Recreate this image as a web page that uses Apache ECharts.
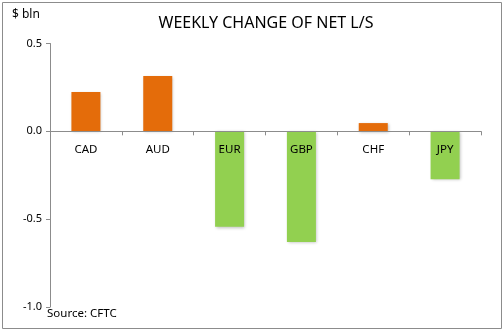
<!DOCTYPE html>
<html><head><meta charset="utf-8">
<script src="https://cdn.jsdelivr.net/npm/echarts@6/dist/echarts.min.js"></script>
<style>html,body{margin:0;padding:0;background:#fff}#c{width:504px;height:332px}</style>
</head><body><div id="c"></div>
<script>
var categories = ["CAD", "AUD", "EUR", "GBP", "CHF", "JPY"];
var values = [0.224, 0.315, -0.543, -0.63, 0.047, -0.273];
var yTicks = [-1.0, -0.5, 0.0, 0.5];

var chart = echarts.init(document.getElementById('c'));
var font = '"Noto Sans", sans-serif';
var gridTop = 43.5, gridBottom = 25, H = 332;
var yMin = yTicks[0], yMax = yTicks[yTicks.length - 1];
var plotH = H - gridTop - gridBottom;
var zeroOffset = -plotH * (0 - yMin) / (yMax - yMin);
chart.setOption({
  animation: false,
  backgroundColor: '#fff',
  title: {
    text: 'WEEKLY CHANGE OF NET L/S', left: 261, top: 10, textAlign: 'center',
    textStyle: { fontFamily: font, fontWeight: 'normal', fontSize: 16, color: '#000' }
  },
  graphic: [
    { type: 'rect', shape: { x: 2.5, y: 2.5, width: 499, height: 326 }, style: { fill: 'none', stroke: '#8c8c8c', lineWidth: 1 } },
    { type: 'text', left: 12, top: 9, style: { text: '$ bln', fontFamily: font, fontSize: 12, fill: '#000' } },
    { type: 'text', left: 47, top: 308, style: { text: 'Source: CFTC', fontFamily: font, fontSize: 11.5, fill: '#000' } }
  ],
  grid: { left: 50, right: 23, top: gridTop, bottom: gridBottom },
  xAxis: {
    type: 'category', data: categories,
    offset: zeroOffset,
    axisLine: { onZero: false, lineStyle: { color: '#8c8c8c' } },
    axisTick: { show: true, length: 4, inside: false, lineStyle: { color: '#8c8c8c' } },
    axisLabel: { margin: 12, fontFamily: font, fontSize: 11.5, color: '#000' },
    z: 10
  },
  yAxis: {
    type: 'value', min: yMin, max: yMax, interval: 0.5,
    splitLine: { show: false },
    axisLine: { show: true, lineStyle: { color: '#8c8c8c' } },
    axisTick: { show: true, length: 4, lineStyle: { color: '#8c8c8c' } },
    axisLabel: { margin: 8, fontFamily: font, fontSize: 11, color: '#000',
      formatter: function (v) { return v.toFixed(1); } }
  },
  series: [{
    type: 'bar', barWidth: 29,
    data: values.map(function (v) {
      return { value: v, itemStyle: { color: v >= 0 ? '#E46C0A' : '#92D050' } };
    }),
    itemStyle: { shadowBlur: 3, shadowColor: 'rgba(0,0,0,0.25)', shadowOffsetX: 1, shadowOffsetY: 1 }
  }]
});
</script></body></html>
